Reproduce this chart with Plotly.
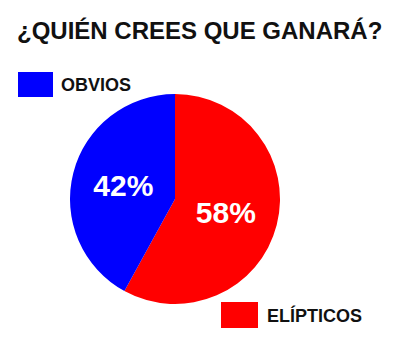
import plotly.graph_objects as go

labels = ["ELÍPTICOS", "OBVIOS"]
values = [58, 42]
colors = ["#ff0000", "#0000ff"]
title = "¿QUIÉN CREES QUE GANARÁ?"

W, H = 400, 340
cx, cy, r = 175, 199, 105

fig = go.Figure(go.Pie(
    labels=labels, values=values, sort=False, direction="clockwise", rotation=0,
    marker=dict(colors=colors, line=dict(width=0)),
    textinfo="percent", textposition="inside", insidetextorientation="horizontal",
    textfont=dict(family="Liberation Sans", size=30, color="white", weight="bold"),
    domain=dict(x=[(cx - r) / W, (cx + r) / W], y=[(H - cy - r) / H, (H - cy + r) / H]),
    showlegend=False, hoverinfo="skip",
))

shapes = [
    dict(type="rect", xref="paper", yref="paper", x0=18 / W, x1=53 / W, y0=1 - 97 / H, y1=1 - 72 / H,
         fillcolor=colors[1], line=dict(width=0)),
    dict(type="rect", xref="paper", yref="paper", x0=221 / W, x1=258 / W, y0=1 - 328 / H, y1=1 - 302 / H,
         fillcolor=colors[0], line=dict(width=0)),
]
annotations = [
    dict(text=f"<b>{title}</b>", xref="paper", yref="paper", x=199 / W, y=1 - 30 / H,
         xanchor="center", yanchor="middle", showarrow=False,
         font=dict(family="Liberation Sans", size=24, color="#111111")),
    dict(text=f"<b>{labels[1]}</b>", xref="paper", yref="paper", x=59 / W, y=1 - 85 / H,
         xanchor="left", yanchor="middle", showarrow=False,
         font=dict(family="Liberation Sans", size=18, color="#111111")),
    dict(text=f"<b>{labels[0]}</b>", xref="paper", yref="paper", x=265 / W, y=1 - 315 / H,
         xanchor="left", yanchor="middle", showarrow=False,
         font=dict(family="Liberation Sans", size=18, color="#111111")),
]

fig.update_layout(width=W, height=H, margin=dict(l=0, r=0, t=0, b=0),
                  paper_bgcolor="white", plot_bgcolor="white",
                  shapes=shapes, annotations=annotations)
fig.write_html("out.html")
